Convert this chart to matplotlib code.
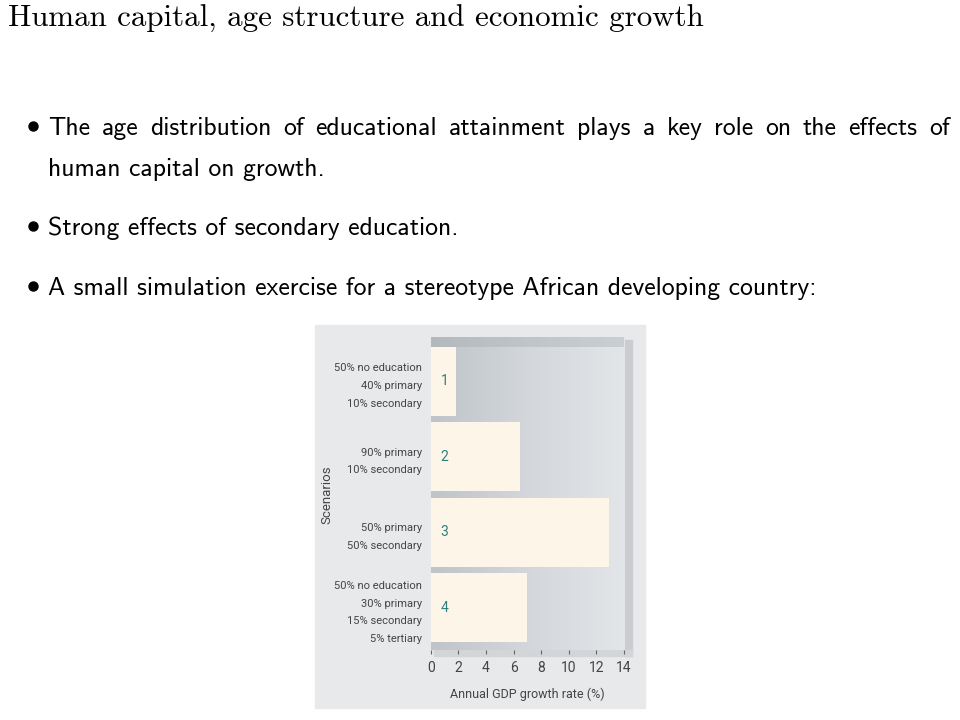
import numpy as np
import matplotlib.pyplot as plt
from matplotlib.patches import Rectangle
from matplotlib.lines import Line2D
from matplotlib.colors import LinearSegmentedColormap

# slide text
title = "Human capital, age structure and economic growth"
bullet1 = ["The age distribution of educational attainment plays a key role on the effects of",
           "human capital on growth."]
bullet2 = "Strong effects of secondary education."
bullet3 = "A small simulation exercise for a stereotype African developing country:"

# chart data
scenarios = ["1", "2", "3", "4"]
mixes = ["50% no education\n40% primary\n10% secondary",
         "90% primary\n10% secondary",
         "50% primary\n50% secondary",
         "50% no education\n30% primary\n15% secondary\n5% tertiary"]
growth = [1.8, 6.5, 12.9, 7.0]
xticks = [0, 2, 4, 6, 8, 10, 12, 14]

W, H = 960, 720
fig = plt.figure(figsize=(9.6, 7.2), dpi=100)
fig.patch.set_facecolor("white")

def fx(px):
    return px / W

def fy(py):
    return 1 - py / H

narrow = ["Roboto", "DejaVu Sans"]
sans = ["cmss10", "DejaVu Sans"]

# title
fig.text(fx(8), fy(27), title, fontsize=22.3, family="cmr10", va="baseline", ha="left")

# bullets
def bullet(ypx):
    fig.add_artist(Line2D([fx(33)], [fy(ypx - 9)], marker="o", markersize=6.5,
                          color="black", transform=fig.transFigure))

def justify(words, y, x0, x1, size):
    r = fig.canvas.get_renderer()
    ts = [fig.text(0, fy(y), w, fontsize=size, family=sans, va="baseline") for w in words]
    ws = [t.get_window_extent(r).width for t in ts]
    gap = (x1 - x0 - sum(ws)) / (len(words) - 1)
    x = x0
    for t, w in zip(ts, ws):
        t.set_x(fx(x))
        x += w + gap

bsize = 18.5
bullet(135)
justify(bullet1[0].split(), 135, 48, 950, bsize)
fig.text(fx(48), fy(176), bullet1[1], fontsize=bsize, family=sans, va="baseline")
bullet(235)
fig.text(fx(48), fy(235), bullet2, fontsize=bsize, family=sans, va="baseline")
bullet(295)
fig.text(fx(48), fy(295), bullet3, fontsize=bsize, family=sans, va="baseline")

# chart panel
fig.patches.append(Rectangle((fx(315), fy(708)), fx(330), 383 / H,
                             transform=fig.transFigure, color="#e7e9eb", zorder=-2))
# shadow right and below plot area
fig.patches.append(Rectangle((fx(624), fy(656)), fx(8), 316 / H,
                             transform=fig.transFigure, color="#cbccd0", zorder=-1))
fig.patches.append(Rectangle((fx(434), fy(656)), fx(198), 6 / H,
                             transform=fig.transFigure, color="#d3d5d8", zorder=-1))

ax = fig.add_axes([fx(430.7), fy(650), fx(624 - 430.7), (650 - 337) / H])
ax.patch.set_visible(False)
ylim = (3.563, -0.585)
grad = np.linspace(0, 1, 200).reshape(1, -1)
ax.imshow(grad, extent=[0, 14, ylim[0], ylim[1]], aspect="auto",
          cmap=LinearSegmentedColormap.from_list("bg", ["#bfc4c9", "#d3d7db", "#e2e6e9"]),
          zorder=0)
# darker band along the top
ax.axhspan(-0.585, -0.457, color="#9ea4aa", alpha=0.35, lw=0, zorder=1)

y = np.arange(len(growth))
ax.barh(y, growth, height=0.915, color="#fdf6e8", zorder=2)
for yi, s in zip(y, scenarios):
    ax.text(1.0, yi, s, color="#2f7f80", fontsize=10, family=narrow,
            va="center", ha="center", zorder=3)

ax.set_xlim(0, 14)
ax.set_ylim(*ylim)
ax.set_xticks(xticks)
ax.set_xticklabels([str(t) for t in xticks], fontsize=10, family=narrow, color="#444444")
ax.set_yticks(y)
ax.set_yticklabels(mixes, fontsize=8, family=narrow, color="#444444", linespacing=1.95)
ax.tick_params(axis="y", length=0, pad=6)
ax.tick_params(axis="x", length=3, width=0.8, color="#666666", pad=5, direction="out")
for s in ax.spines.values():
    s.set_visible(False)

ax.set_xlabel("Annual GDP growth rate (%)", fontsize=9, family=narrow,
              color="#444444", labelpad=9)
fig.text(fx(327), fy(495), "Scenarios", rotation=90, fontsize=9.5, family=narrow,
         color="#444444", ha="center", va="center")

fig.savefig("out.png", dpi=100)
